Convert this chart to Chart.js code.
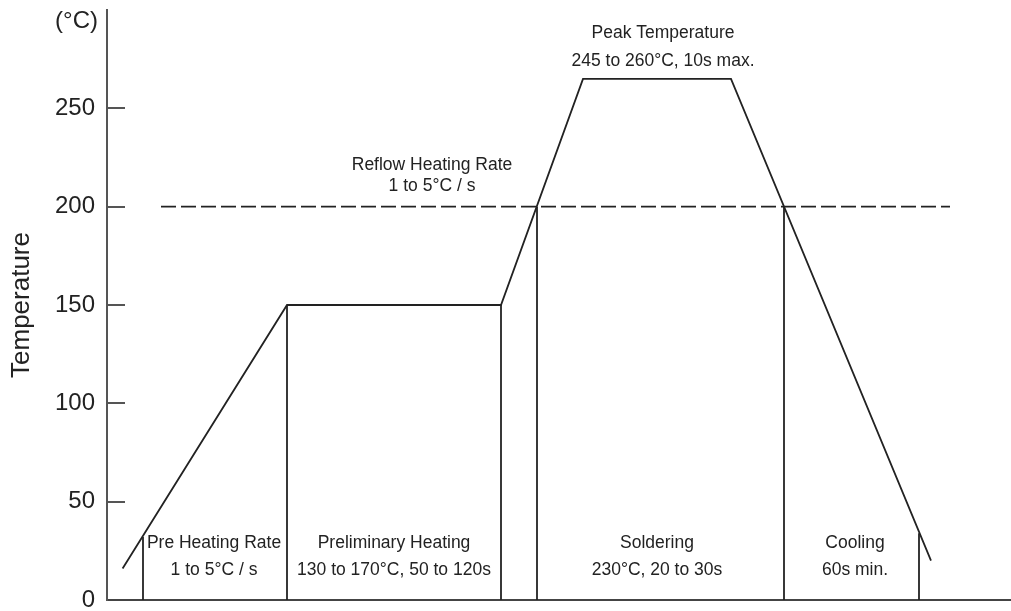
<!DOCTYPE html>
<html>
<head>
<meta charset="utf-8">
<script src="https://cdn.jsdelivr.net/npm/chart.js@4.4.1/dist/chart.umd.min.js"></script>
<style>
  html, body { margin: 0; padding: 0; background: #fff; }
  #wrap { width: 1011px; height: 611px; }
</style>
</head>
<body>
<div id="wrap"><canvas id="reflowChart"></canvas></div>
<script>
// time axis in arbitrary units (not labelled in the source)
const profileTime = [7.8, 90, 197, 238, 312, 412];
const profileTemp = [16, 150, 150, 265, 265, 20];

const reflowTime = [27, 421.5];
const reflowTemp = [200, 200];

// vertical zone dividers: position and height where they meet the profile
const dividerTime = [18, 90, 197, 215, 338.5, 406];
const dividerTemp = [32, 150, 150, 200, 200, 34];

const tempTicks = [0, 50, 100, 150, 200, 250];

const noteLines = [
    ["Pre Heating Rate", "1 to 5°C / s"],
    ["Preliminary Heating", "130 to 170°C, 50 to 120s"],
    ["Soldering", "230°C, 20 to 30s"],
    ["Cooling", "60s min."],
    ["Reflow Heating Rate", "1 to 5°C / s"],
    ["Peak Temperature", "245 to 260°C, 10s max."]
];
const noteTime = [53.5, 143.5, 275, 374, 162.5, 278];
const noteTemp1 = [29, 29, 29, 29, 221, 288];
const noteTemp2 = [15, 15, 15, 15, 210.5, 274];

const ink = "#222";
const FONT = "'Liberation Sans', Arial, sans-serif";

function toPoints(xs, ys) {
    return xs.map((x, i) => ({ x: x, y: ys[i] }));
}

const datasets = [];
datasets.push({
    data: toPoints(profileTime, profileTemp),
    borderColor: ink, borderWidth: 1.8, pointRadius: 0, showLine: true
});
datasets.push({
    data: toPoints(reflowTime, reflowTemp),
    borderColor: ink, borderWidth: 1.8, borderDash: [15, 5], pointRadius: 0, showLine: true
});
dividerTime.forEach((t, i) => {
    datasets.push({
        data: toPoints([t, t], [0, dividerTemp[i]]),
        borderColor: ink, borderWidth: 1.8, pointRadius: 0, showLine: true
    });
});

// inward tick marks, unit label and the zone notes
const extras = {
    id: "extras",
    afterDraw(chart) {
        const ctx = chart.ctx;
        const xs = chart.scales.x;
        const ys = chart.scales.y;
        ctx.save();
        ctx.strokeStyle = "#555";
        ctx.lineWidth = 2;
        tempTicks.forEach(v => {
            if (v === 0) return;
            const py = Math.round(ys.getPixelForValue(v));
            ctx.beginPath();
            ctx.moveTo(ys.right, py);
            ctx.lineTo(ys.right + 18, py);
            ctx.stroke();
        });

        ctx.fillStyle = ink;
        ctx.font = "24px " + FONT;
        ctx.textAlign = "right";
        ctx.textBaseline = "middle";
        ctx.fillText("(°C)", ys.right - 9, ys.getPixelForValue(294));

        ctx.font = "17.5px " + FONT;
        ctx.textAlign = "center";
        noteLines.forEach((lines, i) => {
            const px = xs.getPixelForValue(noteTime[i]);
            ctx.fillText(lines[0], px, ys.getPixelForValue(noteTemp1[i]));
            ctx.fillText(lines[1], px, ys.getPixelForValue(noteTemp2[i]));
        });
        ctx.restore();
    }
};

new Chart(document.getElementById("reflowChart").getContext("2d"), {
    type: "scatter",
    data: { datasets: datasets },
    plugins: [extras],
    options: {
        responsive: true,
        maintainAspectRatio: false,
        animation: false,
        layout: { padding: { top: 10, right: 0, left: 0, bottom: 0 } },
        plugins: { legend: { display: false }, tooltip: { enabled: false } },
        scales: {
            x: {
                type: "linear",
                min: 0,
                max: 452,
                ticks: { display: false },
                grid: { display: false, drawTicks: false },
                border: { display: true, color: "#444", width: 2 },
                afterFit: function (scale) {
                    scale.height = 11;
                    scale.paddingLeft = 0;
                    scale.paddingRight = 0;
                }
            },
            y: {
                type: "linear",
                min: 0,
                max: 300,
                afterBuildTicks: function (scale) {
                    scale.ticks = tempTicks.map(v => ({ value: v }));
                },
                ticks: {
                    padding: 12,
                    color: ink,
                    font: { family: FONT, size: 24, lineHeight: 0.8 }
                },
                grid: { display: false, drawTicks: false },
                border: { display: true, color: "#555", width: 2 },
                title: {
                    display: true,
                    text: "Temperature",
                    color: ink,
                    font: { family: FONT, size: 26 },
                    padding: { top: 6, bottom: 0 }
                },
                afterFit: function (scale) {
                    scale.width = 107;
                    scale.paddingTop = 0;
                    scale.paddingBottom = 0;
                }
            }
        }
    }
});
</script>
</body>
</html>
